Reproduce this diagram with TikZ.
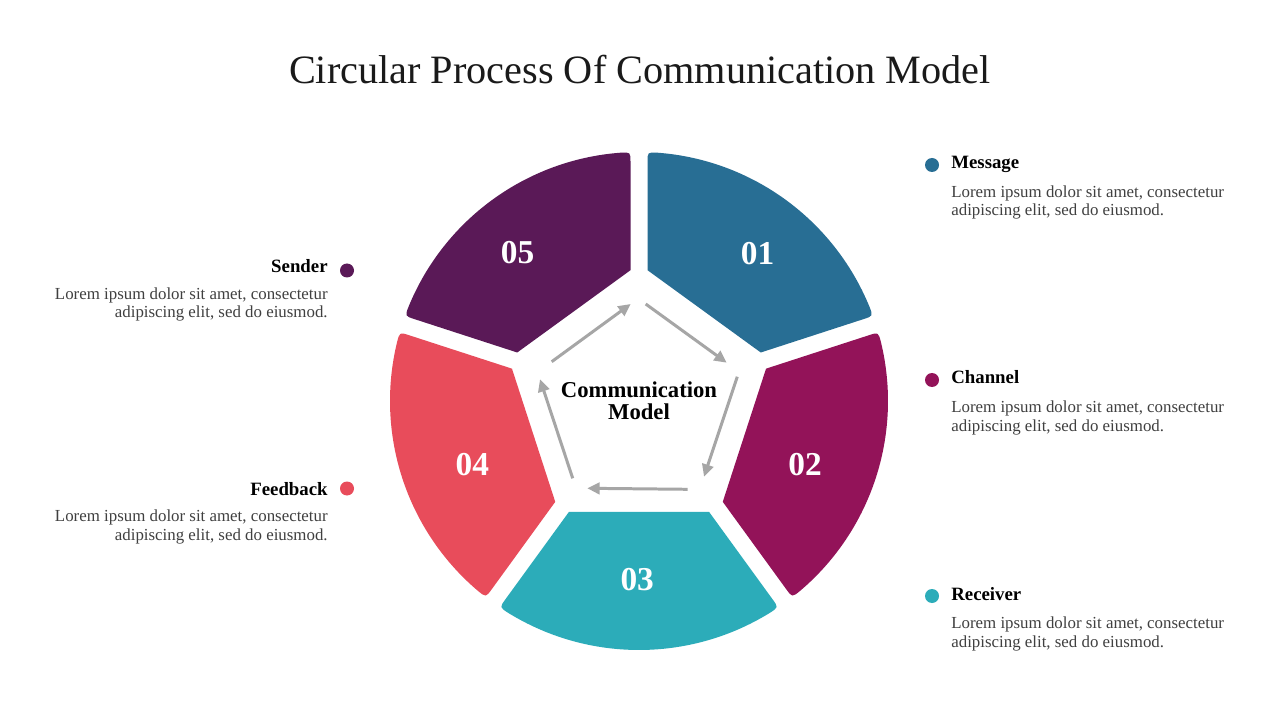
\documentclass[tikz,border=0pt]{standalone}
\usepackage{fontspec}
\setmainfont{Liberation Serif}
\usetikzlibrary{calc,arrows.meta}
\definecolor{cOne}{HTML}{286E94}
\definecolor{cTwo}{HTML}{931359}
\definecolor{cThree}{HTML}{2CACB9}
\definecolor{cFour}{HTML}{E84C5B}
\definecolor{cFive}{HTML}{5A1957}
\definecolor{arrgray}{HTML}{A6A6A6}
\definecolor{bodygray}{HTML}{404040}
\definecolor{titleblack}{HTML}{1A1A1A}
\newcommand\wedgeseg[2]{%
  \fill[#2] ($(#1:130.8)+(#1-90:8.5)$)
    -- ($(#1:238.85)+(#1-90:8.5)$)
    .. controls ($(#1:248.85)+(#1-90:8.5)$) .. ({#1-4.26}:249)
    arc[start angle={#1-4.26}, end angle={#1-72+4.26}, radius=249]
    .. controls ($(#1-72:248.85)+(#1+18:8.5)$) .. ($(#1-72:238.85)+(#1+18:8.5)$)
    -- ($(#1-72:130.8)+(#1+18:8.5)$) -- cycle;}
\begin{document}
\begin{tikzpicture}[x=0.2mm,y=-0.2mm,
  num/.style={anchor=base, inner sep=0pt, text=white, font=\fontsize{19}{22}\selectfont\bfseries},
  lbl/.style={inner sep=0pt, text=black, font=\fontsize{10.7}{12}\selectfont\bfseries},
  body/.style={inner sep=0pt, text=bodygray, font=\fontsize{9.6}{10.6}\selectfont},
  dotmark/.style={circle, inner sep=0pt, minimum size=2.8mm},
  arr/.style={draw=arrgray, line width=1.7pt, -{Triangle[length=7pt,width=6.5pt]}}]
\useasboundingbox (0,0) rectangle (1280,720);
\fill[white] (0,0) rectangle (1280,720);

\node[anchor=base, inner sep=0pt, text=titleblack, font=\fontsize{22.9}{27}\selectfont] (title) at (640,83.5) {Circular Process Of Communication Model};

\begin{scope}[shift={(639,401)}, yscale=-1]
  \wedgeseg{90}{cOne}
  \wedgeseg{18}{cTwo}
  \wedgeseg{-54}{cThree}
  \wedgeseg{-126}{cFour}
  \wedgeseg{162}{cFive}
\end{scope}

\node[num] (n01) at (757.5,265) {01};
\node[num] (n02) at (805,475.7) {02};
\node[num] (n03) at (637.2,590.7) {03};
\node[num] (n04) at (472.3,475.7) {04};
\node[num] (n05) at (517.5,264) {05};

\node[anchor=base, inner sep=0pt, align=center, font=\fontsize{12.9}{12.3}\selectfont\bfseries] (center) at (639,419) {Communication\\Model};

\coordinate (a1s) at (551.7,361.7); \coordinate (a1e) at (630.7,304);
\coordinate (a2s) at (645.7,304);   \coordinate (a2e) at (726.7,362.7);
\coordinate (a3s) at (737.3,376.7); \coordinate (a3e) at (704,476.7);
\coordinate (a4s) at (687.7,489.3); \coordinate (a4e) at (587.3,488.3);
\coordinate (a5s) at (572.7,478.3); \coordinate (a5e) at (540,379.3);
\draw[arr] (a1s) -- (a1e);
\draw[arr] (a2s) -- (a2e);
\draw[arr] (a3s) -- (a3e);
\draw[arr] (a4s) -- (a4e);
\draw[arr] (a5s) -- (a5e);

% right side
\node[dotmark, fill=cOne] (d1) at (932,165) {};
\node[lbl, anchor=base west] (l1) at (951,169) {Message};
\node[body, anchor=base west, align=left] (b1) at (951,216) {Lorem ipsum dolor sit amet, consectetur\\adipiscing elit, sed do eiusmod.};

\node[dotmark, fill=cTwo] (d2) at (932,380) {};
\node[lbl, anchor=base west] (l2) at (951,384) {Channel};
\node[body, anchor=base west, align=left] (b2) at (951,431) {Lorem ipsum dolor sit amet, consectetur\\adipiscing elit, sed do eiusmod.};

\node[dotmark, fill=cThree] (d3) at (932,596) {};
\node[lbl, anchor=base west] (l3) at (951,600) {Receiver};
\node[body, anchor=base west, align=left] (b3) at (951,647) {Lorem ipsum dolor sit amet, consectetur\\adipiscing elit, sed do eiusmod.};

% left side
\node[dotmark, fill=cFive] (d5) at (347,270.5) {};
\node[lbl, anchor=base east] (l5) at (328,273) {Sender};
\node[body, anchor=base east, align=right] (b5) at (328,318) {Lorem ipsum dolor sit amet, consectetur\\adipiscing elit, sed do eiusmod.};

\node[dotmark, fill=cFour] (d4) at (347,488.5) {};
\node[lbl, anchor=base east] (l4) at (328,495) {Feedback};
\node[body, anchor=base east, align=right] (b4) at (328,540) {Lorem ipsum dolor sit amet, consectetur\\adipiscing elit, sed do eiusmod.};
\end{tikzpicture}
\end{document}
